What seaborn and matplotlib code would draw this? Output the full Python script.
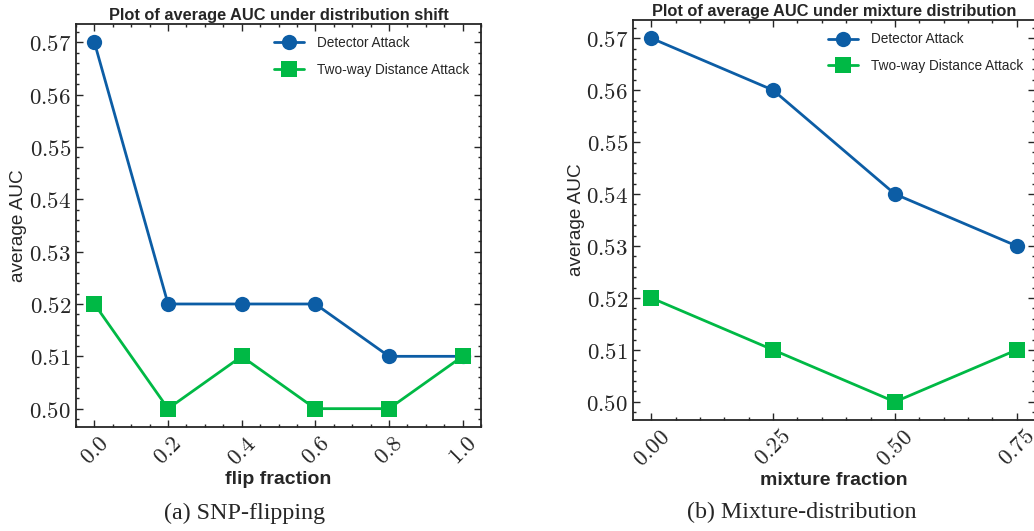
import numpy as np
import pandas as pd
import matplotlib
matplotlib.use("Agg")
import matplotlib.pyplot as plt
import seaborn as sns
from matplotlib.ticker import AutoMinorLocator, FuncFormatter, MultipleLocator

# data
flip_fraction = [0.0, 0.2, 0.4, 0.6, 0.8, 1.0]
flip_detector = [0.57, 0.52, 0.52, 0.52, 0.51, 0.51]
flip_twoway = [0.52, 0.50, 0.51, 0.50, 0.50, 0.51]

mix_fraction = [0.00, 0.25, 0.50, 0.75]
mix_detector = [0.57, 0.56, 0.54, 0.53]
mix_twoway = [0.52, 0.51, 0.50, 0.51]

series_names = ["Detector Attack", "Two-way Distance Attack"]
colors = ["#0C5DA5", "#00B945"]
markers = ["o", "s"]

sns.set_style("ticks")
plt.rcParams["font.family"] = ["Liberation Sans", "DejaVu Sans"]
plt.rcParams["mathtext.fontset"] = "cm"

fig = plt.figure(figsize=(10.34, 5.31), dpi=100)
ax1 = fig.add_axes([0.0735, 0.1959, 0.3917, 0.7589])
ax2 = fig.add_axes([0.6122, 0.2090, 0.3888, 0.7533])


def draw(ax, x, ys, title, xlabel, xfmt):
    for y, name, c, m in zip(ys, series_names, colors, markers):
        sns.lineplot(x=x, y=y, ax=ax, color=c, marker=m, markersize=11,
                     markeredgewidth=0, linewidth=2, label=name)
    ax.set_title(title, fontsize=11.8, fontweight="bold", pad=3)
    ax.set_xlabel(xlabel, fontsize=14, fontweight="bold", labelpad=1)
    ax.set_ylabel("average AUC", fontsize=13.7)
    ax.yaxis.set_label_coords(-0.12, 0.5)
    ax.set_xticks(x)
    ax.yaxis.set_major_locator(MultipleLocator(0.01))
    ax.xaxis.set_minor_locator(AutoMinorLocator())
    ax.yaxis.set_minor_locator(AutoMinorLocator())
    ax.xaxis.set_major_formatter(FuncFormatter(lambda v, p: "$" + format(v, xfmt) + "$"))
    ax.yaxis.set_major_formatter(FuncFormatter(lambda v, p: "$%.2f$" % v))
    ax.tick_params(which="both", direction="in", top=True, right=True, width=1)
    ax.tick_params(which="major", length=5, labelsize=16.5)
    ax.tick_params(which="minor", length=2.5)
    ax.tick_params(axis="x", labelrotation=45)
    for s in ax.spines.values():
        s.set_linewidth(1.3)
    ax.legend(frameon=False, loc="upper right", fontsize=9.8, handlelength=2.2,
              labelspacing=0.9, borderaxespad=0.5, handletextpad=0.9)


draw(ax1, flip_fraction, [flip_detector, flip_twoway],
     "Plot of average AUC under distribution shift", "flip fraction", ".1f")
draw(ax2, mix_fraction, [mix_detector, mix_twoway],
     "Plot of average AUC under mixture distribution", "mixture fraction", ".2f")

fig.text(245 / 1034, 0.034, "(a) SNP-flipping", ha="center", va="center",
         fontsize=17.3, family="Liberation Serif")
fig.text(802 / 1034, 0.034, "(b) Mixture-distribution", ha="center", va="center",
         fontsize=17.3, family="Liberation Serif")

fig.savefig("out.png", dpi=100)
